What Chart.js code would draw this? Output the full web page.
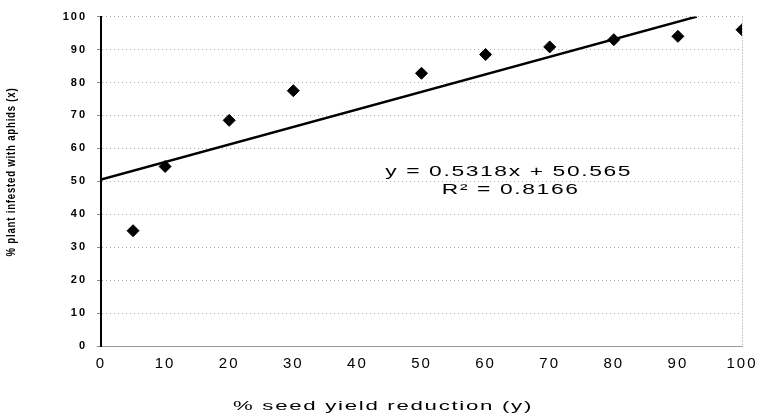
<!DOCTYPE html>
<html>
<head>
<meta charset="utf-8">
<script src="https://cdn.jsdelivr.net/npm/chart.js@4"></script>
<style>
  html, body { margin: 0; padding: 0; background: #fff; }
  #wrap { width: 768px; height: 416px; }
</style>
</head>
<body>
<div id="wrap"><canvas id="chart"></canvas></div>
<script>
const yieldReduction = [5, 10, 20, 30, 50, 60, 70, 80, 90, 100];
const plantsInfested = [35.0, 54.5, 68.5, 77.5, 82.8, 88.5, 90.8, 93.0, 94.0, 96.0];
const trendSlope = 0.5318;
const trendIntercept = 50.565;
const trendLabel = ['y = 0.5318x + 50.565', 'R² = 0.8166'];
const xTitle = '% seed yield reduction (y)';
const yTitle = '% plant infested with aphids (x)';

const yMax = 100;
const trendEnd = (yMax - trendIntercept) / trendSlope;
const trendPoints = [0, trendEnd].map(x => ({ x, y: trendSlope * x + trendIntercept }));

const FONT = "'Liberation Sans', Arial, sans-serif";

// wide letter spacing like the scanned original
const spacing = {
  id: 'spacing',
  beforeUpdate(chart) { chart.ctx.letterSpacing = '2px'; },
  beforeDraw(chart) { chart.ctx.letterSpacing = '2px'; }
};

// text stretched sideways to a given width (the scan is wide)
function wideText(ctx, text, x, y, font, width, rot) {
  ctx.save();
  ctx.font = font;
  ctx.letterSpacing = '1px';
  ctx.textAlign = 'center';
  ctx.textBaseline = 'middle';
  const k = width / ctx.measureText(text).width;
  ctx.translate(x, y);
  if (rot) ctx.rotate(rot);
  ctx.scale(k, 1);
  ctx.fillText(text, 0, 0);
  ctx.restore();
  return k;
}

// dotted right border, axis titles and equation text
const extras = {
  id: 'extras',
  afterDraw(chart) {
    const { ctx, chartArea: a, scales } = chart;
    ctx.save();
    ctx.strokeStyle = '#999';
    ctx.lineWidth = 1;
    ctx.setLineDash([1, 2]);
    ctx.beginPath();
    ctx.moveTo(a.right + 0.5, a.top);
    ctx.lineTo(a.right + 0.5, a.bottom);
    ctx.stroke();
    ctx.restore();
    ctx.fillStyle = '#000';

    const eqFont = '14px ' + FONT;
    const cx = scales.x.getPixelForValue(63.6);
    const k = wideText(ctx, trendLabel[0], cx, scales.y.getPixelForValue(52.8), eqFont, 247);
    ctx.save();
    ctx.font = eqFont;
    ctx.letterSpacing = '1px';
    const w2 = ctx.measureText(trendLabel[1]).width * k;
    ctx.restore();
    wideText(ctx, trendLabel[1], cx + 2, scales.y.getPixelForValue(47.4), eqFont, w2);

    wideText(ctx, xTitle, 383, 406, '13px ' + FONT, 300);
    wideText(ctx, yTitle, 12, 172, 'bold 12px ' + FONT, 169, -Math.PI / 2);
  }
};

new Chart(document.getElementById('chart'), {
  type: 'scatter',
  data: {
    datasets: [
      {
        data: yieldReduction.map((x, i) => ({ x, y: plantsInfested[i] })),
        pointStyle: 'rectRot',
        pointRadius: 6,
        backgroundColor: '#000',
        borderColor: '#000',
        order: 1
      },
      {
        type: 'line',
        data: trendPoints,
        borderColor: '#000',
        borderWidth: 2.5,
        pointRadius: 0,
        fill: false,
        order: 2
      }
    ]
  },
  options: {
    responsive: true,
    maintainAspectRatio: false,
    animation: false,
    layout: { padding: { top: 15, right: 26, left: 30, bottom: 0 } },
    plugins: { legend: { display: false }, tooltip: { enabled: false } },
    scales: {
      x: {
        type: 'linear',
        min: 0, max: 100,
        ticks: { stepSize: 10, color: '#000', padding: 5, font: { family: FONT, size: 15 } },
        grid: { display: false, tickLength: 4 },
        border: { display: true, color: '#999', width: 1 },
        afterFit: s => { s.height = 70; }
      },
      y: {
        min: 0, max: 100,
        ticks: { stepSize: 10, color: '#000', padding: 10, font: { family: FONT, size: 11, weight: 'bold' } },
        grid: { color: '#aaa', lineWidth: 1, tickLength: 4, tickColor: '#888' },
        border: { display: true, color: '#000', width: 2, dash: [1, 3] },
        afterFit: s => { s.width = 71; }
      }
    }
  },
  plugins: [spacing, extras]
});
</script>
</body>
</html>
